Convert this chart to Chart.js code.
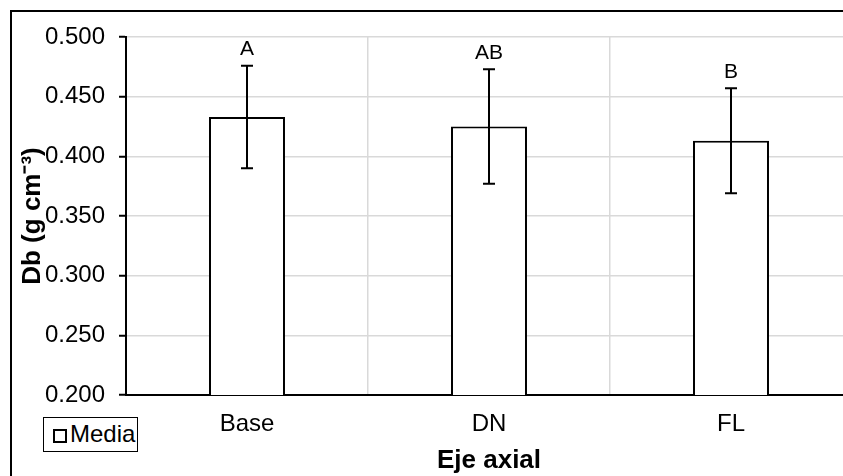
<!DOCTYPE html>
<html><head><meta charset="utf-8">
<script src="https://cdn.jsdelivr.net/npm/chart.js@4.4.1/dist/chart.umd.min.js"></script>
<style>
html,body{margin:0;padding:0;background:#fff;overflow:hidden;}
#root{position:relative;width:843px;height:476px;overflow:hidden;background:#fff;}
#frame{position:absolute;left:10px;top:10px;width:880px;height:500px;border-left:2px solid #000;border-top:2px solid #000;box-sizing:border-box;}
#wrap{position:absolute;left:0;top:0;width:870px;height:476px;}
#legend{position:absolute;left:43px;top:417px;width:95px;height:35px;border:1.5px solid #000;box-sizing:border-box;background:#fff;font-family:"Liberation Sans",Arial,sans-serif;font-size:24px;color:#000;}
#legend .sw{position:absolute;left:8.5px;top:10.5px;width:14px;height:14px;border:2px solid #000;box-sizing:border-box;}
#legend .tx{position:absolute;left:26px;top:4px;line-height:24px;white-space:nowrap;}
</style>
</head><body>
<div id="root">
<div id="frame"></div>
<div id="wrap"><canvas id="c"></canvas></div>
<div id="legend"><span class="sw"></span><span class="tx" id="legtext"></span></div>
</div>
<script>
const categories = ['Base', 'DN', 'FL'];
const means = [0.433, 0.425, 0.413];
const errors = [0.043, 0.048, 0.044];
const letters = ['A', 'AB', 'B'];
const seriesName = 'Media';
const yTitle = 'Db (g cm\u207B\u00B3)';
const xTitle = 'Eje axial';

document.getElementById('legtext').textContent = seriesName;
const FAM = '"Liberation Sans", Arial, sans-serif';

const errPlugin = {
  id: 'errbars',
  afterDatasetsDraw(chart) {
    const ctx = chart.ctx, y = chart.scales.y;
    const meta = chart.getDatasetMeta(0);
    ctx.save();
    ctx.strokeStyle = '#000';
    ctx.lineWidth = 2;
    meta.data.forEach((bar, i) => {
      const x = bar.x;
      const yt = y.getPixelForValue(means[i] + errors[i]);
      const yb = y.getPixelForValue(means[i] - errors[i]);
      ctx.beginPath();
      ctx.moveTo(x, yt); ctx.lineTo(x, yb);
      ctx.moveTo(x - 6, yt); ctx.lineTo(x + 6, yt);
      ctx.moveTo(x - 6, yb); ctx.lineTo(x + 6, yb);
      ctx.stroke();
      ctx.fillStyle = '#000';
      ctx.font = '21px ' + FAM;
      ctx.textAlign = 'center';
      ctx.textBaseline = 'middle';
      ctx.fillText(letters[i], x, yt - 16);
    });
    ctx.restore();
  }
};

new Chart(document.getElementById('c'), {
  type: 'bar',
  data: {
    labels: categories,
    datasets: [{
      label: seriesName,
      data: means,
      backgroundColor: '#ffffff',
      borderColor: '#000000',
      borderWidth: 2,
      barPercentage: 0.314,
      categoryPercentage: 1
    }]
  },
  options: {
    responsive: true,
    maintainAspectRatio: false,
    animation: false,
    layout: { padding: { top: 37, right: 18, left: 0, bottom: 0 } },
    plugins: { legend: { display: false }, tooltip: { enabled: false } },
    scales: {
      x: {
        ticks: { font: { size: 24, family: FAM }, color: '#000', padding: 15 },
        grid: { color: '#d9d9d9', lineWidth: 1.5, drawTicks: false, offset: true },
        border: { color: '#000', width: 2 },
        title: { display: true, text: xTitle, color: '#000', font: { size: 26, weight: 'bold', family: FAM }, padding: { top: 0, bottom: 0 } },
        afterFit(s) { s.height = 81; }
      },
      y: {
        min: 0.2, max: 0.5,
        ticks: { stepSize: 0.05, callback: v => Number(v).toFixed(3), font: { size: 24, family: FAM }, color: '#000', padding: 14 },
        grid: { color: '#d9d9d9', lineWidth: 1.5, tickLength: 7, tickColor: '#000', tickWidth: 2 },
        border: { color: '#000', width: 2 },
        title: { display: true, text: yTitle, color: '#000', font: { size: 26, weight: 'bold', family: FAM }, padding: { top: 17, bottom: 0 } },
        afterFit(s) { s.width = 126; }
      }
    }
  },
  plugins: [errPlugin]
});
</script>
</body></html>
